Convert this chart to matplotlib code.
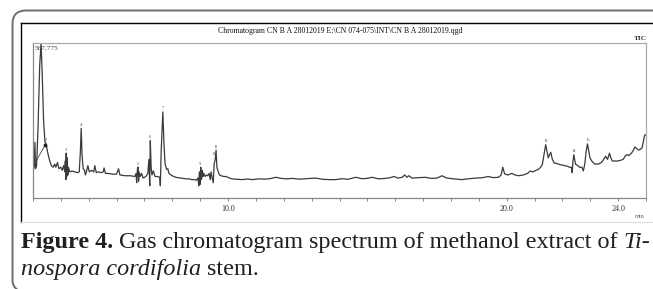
import matplotlib
matplotlib.use("Agg")
import matplotlib.pyplot as plt
from matplotlib.path import Path
from matplotlib.patches import PathPatch

# ---------------- data ----------------
ret_time = [3.00, 3.04, 3.07, 3.09, 3.13, 3.18, 3.24, 3.29, 3.33, 3.38, 3.43, 3.47, 3.52, 3.60, 3.66,
            3.72, 3.78, 3.82, 3.88, 3.93, 4.00, 4.05, 4.10, 4.14, 4.16, 4.18, 4.19, 4.21, 4.23, 4.25,
            4.27, 4.32, 4.40, 4.50, 4.60, 4.66, 4.70, 4.73, 4.76, 4.80, 4.85, 4.88, 4.93, 4.97, 5.02,
            5.10, 5.18, 5.22, 5.27, 5.35, 5.45, 5.52, 5.55, 5.60, 5.70, 5.85, 6.00, 6.07, 6.12, 6.30,
            6.50, 6.65, 6.70, 6.72, 6.75, 6.77, 6.79, 6.81, 6.85, 6.90, 6.95, 7.05, 7.12, 7.16, 7.19,
            7.21, 7.24, 7.27, 7.32, 7.38, 7.48, 7.55, 7.57, 7.60, 7.66, 7.70, 7.74, 7.80, 7.84, 7.88,
            7.95, 8.05, 8.15, 8.30, 8.40, 8.50, 8.60, 8.70, 8.80, 8.86, 8.92, 8.95, 8.97, 9.00, 9.02,
            9.05, 9.08, 9.10, 9.13, 9.18, 9.23, 9.27, 9.32, 9.36, 9.39, 9.43, 9.47, 9.50, 9.54, 9.57,
            9.60, 9.63, 9.69, 9.75, 9.85, 9.93, 10.05, 10.16, 10.3, 10.5, 10.7, 10.88, 11.1, 11.3, 11.5,
            11.72, 11.9, 12.1, 12.3, 12.55, 12.8, 13.0, 13.15, 13.4, 13.63, 13.86, 14.1, 14.3, 14.58, 14.8,
            15.0, 15.17, 15.4, 15.6, 15.8, 15.95, 16.1, 16.25, 16.34, 16.42, 16.49, 16.6, 16.8, 17.08, 17.3,
            17.5, 17.68, 17.85, 18.1, 18.39, 18.6, 18.9, 19.1, 19.35, 19.5, 19.71, 19.80, 19.86, 19.92, 19.95,
            20.05, 20.18, 20.3, 20.42, 20.6, 20.75, 20.84, 20.95, 21.05, 21.14, 21.22, 21.28, 21.34, 21.40, 21.45,
            21.49, 21.54, 21.58, 21.64, 21.71, 21.78, 21.85, 21.95, 22.09, 22.2, 22.27, 22.33, 22.35, 22.38, 22.41,
            22.44, 22.47, 22.55, 22.63, 22.70, 22.75, 22.78, 22.81, 22.85, 22.90, 22.95, 22.99, 23.05, 23.16, 23.28,
            23.40, 23.48, 23.55, 23.62, 23.69, 23.74, 23.79, 23.9, 24.0, 24.1, 24.18, 24.25, 24.30, 24.38, 24.48,
            24.55, 24.60, 24.66, 24.74, 24.80, 24.86, 24.90, 24.95, 25.0]
intensity = [18, 20, 36, 19, 21, 45, 85, 100, 80, 50, 36, 35, 30, 24, 21,
             20, 22, 20, 23, 19, 20, 18, 21, 17, 24, 12, 29, 14, 26, 15,
             20, 17, 17.5, 17, 16.5, 17, 30, 45, 28, 19, 18, 15, 18, 21, 17,
             18, 17, 21, 16.5, 17, 16.5, 17, 19.5, 16, 16, 15.5, 15.5, 19, 15, 14.5,
             14.5, 14, 16, 10, 19, 20, 11, 17, 14, 16, 13, 14, 16, 25, 8,
             37, 20, 15, 17.6, 14, 14, 13.5, 8, 30, 55.5, 35, 22, 18.5, 19, 16,
             15, 14, 13.4, 13, 12.8, 12.5, 12.5, 12, 12, 11.6, 13, 8, 17, 9, 20,
             12, 18, 14, 16, 14, 15, 14.5, 16, 12, 17, 13, 10, 22, 25, 31,
             20, 18, 15, 14.5, 14, 14, 13, 12.4, 12.3, 12, 12.4, 12, 12.5, 12.3, 12.6,
             13.5, 12.8, 12.5, 12.8, 12.3, 12.6, 12.8, 13, 12.2, 12, 12, 12.6, 12.2, 13.5, 12.6,
             12.8, 13.5, 12.5, 12.7, 13.2, 14, 13, 13.5, 15, 13.5, 14.5, 13, 13.2, 13.5, 12.8,
             13, 14.5, 13, 12.5, 12, 12.5, 13, 13.2, 14, 13.3, 13.5, 15, 20, 16, 15.5,
             15, 16, 15, 14.5, 15, 16, 17.5, 17, 18, 18.6, 20, 21.8, 28, 34.5, 30,
             26, 28, 29.6, 25, 22.6, 22.5, 22, 21.5, 21, 20.5, 19.8, 20, 16.5, 24, 28,
             25, 22, 21, 19.8, 20, 17.6, 20, 23, 30, 35, 30, 26, 24, 22, 22,
             23, 25, 27, 25, 29, 26, 24, 24, 24, 24.5, 25, 27, 28, 27.5, 29,
             31, 33, 32, 31, 31.5, 32.5, 36, 40.5, 41]

# integration baseline drawn under the first peak
base_t = [3.03, 3.44]
base_i = [21.4, 34.3]

# peak labels (retention time, intensity at label, text)
peak_t = [3.45, 4.19, 4.73, 6.77, 7.21, 7.66, 9.00, 9.50, 9.57, 21.40, 22.41, 22.90]
peak_i = [36, 30, 46, 21, 38, 56.5, 21, 27, 32, 35.5, 29, 36]
peak_txt = ["2", "3", "4", "5", "6", "7", "9", "11", "12", "13", "14", "15"]

tick_pos = list(range(3, 26))
label_pos = [10.0, 20.0, 24.0]
label_txt = ["10.0", "20.0", "24.0"]

max_label = "567,775"
title_txt = r"Chromatogram CN B A 28012019 E:\CN 074-075\INT\CN B A 28012019.qgd"

# ---------------- figure ----------------
W, H = 653, 289
fig = plt.figure(figsize=(W / 100, H / 100), dpi=100)

bg = fig.add_axes([0, 0, 1, 1], zorder=-1)
bg.set_xlim(0, W)
bg.set_ylim(H, 0)
bg.axis("off")

# outer rounded frame
verts = [(W + 5, 10.5), (26, 10.5), (12.5, 10.5), (12.5, 24), (12.5, 280), (12.5, 287), (18, 290)]
codes = [Path.MOVETO, Path.LINETO, Path.CURVE3, Path.CURVE3, Path.LINETO, Path.CURVE3, Path.CURVE3]
bg.add_patch(PathPatch(Path(verts, codes), fill=False, edgecolor="#6e6e6e", lw=1.4))

# inner box
bg.plot([20.7, 20.7], [222, 23], color="black", lw=1.0)
bg.plot([20.7, W + 5], [23, 23], color="black", lw=1.0)
bg.plot([20.7, W + 5], [222, 222], color="#dddddd", lw=0.8)

# title and corner labels
bg.text(340, 31, title_txt, ha="center", va="center", fontsize=5.6,
        family="Liberation Serif", color="#111111")
bg.text(640, 38, "TIC", ha="center", va="center", fontsize=5.2,
        family="Liberation Serif", color="#333333", fontweight="bold")
bg.text(640, 216, "min", ha="center", va="center", fontsize=4.5,
        family="Liberation Serif", color="#666666")

# chromatogram axes
ax_left, ax_right, ax_top, ax_bot = 33, 646, 42.7, 198.3
ax = fig.add_axes([ax_left / W, 1 - ax_bot / H, (ax_right - ax_left) / W, (ax_bot - ax_top) / H])
ax.plot(ret_time, intensity, color="#3a3a3a", lw=0.9, clip_on=True)
ax.plot(base_t, base_i, color="#444444", lw=0.6)
ax.plot([base_t[1]], [base_i[1]], "o", color="#222222", ms=1.8)
for t, i, s in zip(peak_t, peak_i, peak_txt):
    ax.text(t, i, s, ha="center", va="bottom", fontsize=3.2, color="#444444",
            family="Liberation Serif")
ax.text(0.003, 0.985, max_label, transform=ax.transAxes, ha="left", va="top",
        fontsize=5.2, color="#444444", family="Liberation Serif")

ax.set_xlim(3.0, 25.0)
ax.set_ylim(0, 100)
ax.set_yticks([])
ax.set_xticks(tick_pos)
ax.set_xticklabels([""] * len(tick_pos))
ax.tick_params(axis="x", direction="out", length=2.5, width=0.6, color="#777777")
for t, s in zip(label_pos, label_txt):
    ax.text(t, -4.5, s, ha="center", va="top", fontsize=5.8, color="#333333",
            family="Liberation Serif", clip_on=False)
for side in ["left", "bottom"]:
    ax.spines[side].set_color("#888888")
    ax.spines[side].set_linewidth(0.9)
for side in ["top", "right"]:
    ax.spines[side].set_color("#aaaaaa")
    ax.spines[side].set_linewidth(0.9)

# caption with mixed styles
fig.canvas.draw()
renderer = fig.canvas.get_renderer()
cap_color = "#231f20"
fs = 15.2
line1 = [("Figure 4.", "bold", "normal"),
         (" Gas chromatogram spectrum of methanol extract of ", "normal", "normal"),
         ("Ti-", "normal", "italic")]
line2 = [("nospora cordifolia", "normal", "italic"), (" stem.", "normal", "normal")]


def draw_line(pieces, x0, ybase, size):
    x = x0
    for txt, wt, st in pieces:
        t = bg.text(x, ybase, txt, ha="left", va="baseline", fontsize=size,
                    family="Liberation Serif", fontweight=wt, fontstyle=st, color=cap_color)
        bb = t.get_window_extent(renderer=renderer)
        x += bb.width * (W / fig.bbox.width)
    return x


# measure total width of line 1 and fit it into the space
tmp = draw_line(line1, 21, 247.7, fs)
total = tmp - 21
for t in list(bg.texts)[-3:]:
    t.remove()
fs = fs * 629.0 / total
draw_line(line1, 21, 247.7, fs)
draw_line(line2, 21, 275, fs)

fig.savefig("out.png", dpi=100)
